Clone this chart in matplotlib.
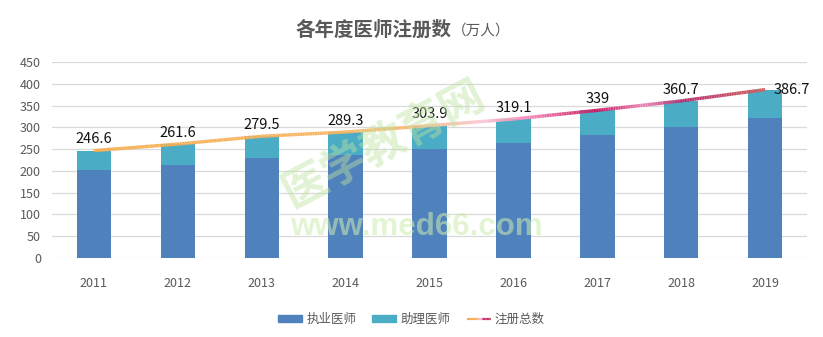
import numpy as np
import matplotlib
matplotlib.use("Agg")
import matplotlib.pyplot as plt
from matplotlib.collections import LineCollection
from matplotlib.colors import LinearSegmentedColormap
from matplotlib.legend_handler import HandlerBase
from matplotlib.patches import Patch

plt.rcParams['font.family'] = ['Noto Sans CJK SC', 'DejaVu Sans']

years = ['2011', '2012', '2013', '2014', '2015', '2016', '2017', '2018', '2019']
total = [246.6, 261.6, 279.5, 289.3, 303.9, 319.1, 339, 360.7, 386.7]
practicing = [202.0, 213.9, 228.6, 237.5, 250.8, 265.1, 282.9, 301.0, 321.1]
assistant = [round(t - p, 1) for t, p in zip(total, practicing)]

title = '各年度医师注册数'
unit = '（万人）'
series_names = ['执业医师', '助理医师', '注册总数']

c_prac = '#4F81BD'
c_asst = '#4BACC6'
grad = LinearSegmentedColormap.from_list('total_grad', [
    (0.00, '#F5AE4E'), (0.45, '#F7B86A'), (0.58, '#F9C6D2'),
    (0.66, '#EE7FB0'), (0.75, '#C8195F'), (0.82, '#EC84B6'),
    (0.88, '#B3306E'), (1.00, '#D2605E')])

fig = plt.figure(figsize=(8.23, 3.37), dpi=100)
ax = fig.add_axes([0.0632, 0.2344, 0.9174, 0.5816])

x = np.arange(len(years))
w = 0.41
ax.bar(x, practicing, w, color=c_prac, zorder=2)
ax.bar(x, assistant, w, bottom=practicing, color=c_asst, zorder=2)

# gradient line for the totals
xs = np.linspace(0, len(years) - 1, 400)
ys = np.interp(xs, x, total)
pts = np.column_stack([xs, ys]).reshape(-1, 1, 2)
segs = np.concatenate([pts[:-1], pts[1:]], axis=1)
lc = LineCollection(segs, cmap=grad, linewidth=2.4, zorder=3, capstyle='butt')
lc.set_array(np.linspace(0, 1, len(segs)))
ax.add_collection(lc)

for i, v in enumerate(total):
    s = f'{v:g}'
    if i == len(total) - 1:
        ax.annotate(s, (x[i], v), xytext=(6, 0), textcoords='offset points',
                    ha='left', va='center', fontsize=10.5, color='#111111', zorder=4)
    else:
        ax.annotate(s, (x[i], v), xytext=(0, 3), textcoords='offset points',
                    ha='center', va='bottom', fontsize=10.5, color='#111111', zorder=4)

# site watermark
fig.text(0.466, 0.575, '医学教育网', fontsize=32, fontweight='bold', color='#BFE3A0',
         alpha=0.45, rotation=28, ha='center', va='center', zorder=5,
         family=['Noto Sans CJK SC'])
fig.text(0.506, 0.325, 'www.med66.com', fontsize=22.5, fontweight='bold', color='#CDEBAE',
         alpha=0.55, ha='center', va='center', zorder=5, family=['Liberation Sans'])

ax.set_xlim(-0.5, len(years) - 0.5)
ax.set_ylim(0, 450)
ax.set_yticks(np.arange(0, 451, 50))
ax.set_xticks(x)
ax.set_xticklabels(years)
ax.grid(axis='y', color='#D9D9D9', linewidth=0.9, zorder=0)
for sp in ax.spines.values():
    sp.set_visible(False)
ax.tick_params(axis='both', length=0, labelsize=9, labelcolor='#595959')
ax.tick_params(axis='x', pad=14)
ax.tick_params(axis='y', pad=8)

fig.text(0.549, 0.91, title, fontsize=14, fontweight='bold', color='#595959',
         ha='right', va='center')
fig.text(0.549, 0.91, unit, fontsize=10.5, color='#595959', ha='left', va='center')


class GradientLineHandler(HandlerBase):
    def create_artists(self, legend, orig_handle, xdescent, ydescent, width,
                       height, fontsize, trans):
        n = 30
        lx = np.linspace(-xdescent, width - xdescent, n)
        ly = np.full(n, height / 2 - ydescent)
        p = np.column_stack([lx, ly]).reshape(-1, 1, 2)
        sg = np.concatenate([p[:-1], p[1:]], axis=1)
        l = LineCollection(sg, cmap=grad, linewidth=1.6, transform=trans)
        l.set_array(np.linspace(0, 1, len(sg)))
        return [l]


handles = [Patch(color=c_prac), Patch(color=c_asst), lc]
leg = fig.legend(handles, series_names, loc='center', bbox_to_anchor=(0.5, 0.052),
                 ncol=3, frameon=False, fontsize=9, labelcolor='#595959',
                 handlelength=1.9, handleheight=0.55, columnspacing=1.3,
                 handletextpad=0.35, handler_map={LineCollection: GradientLineHandler()})

fig.savefig('out.png', dpi=100, facecolor='white')
